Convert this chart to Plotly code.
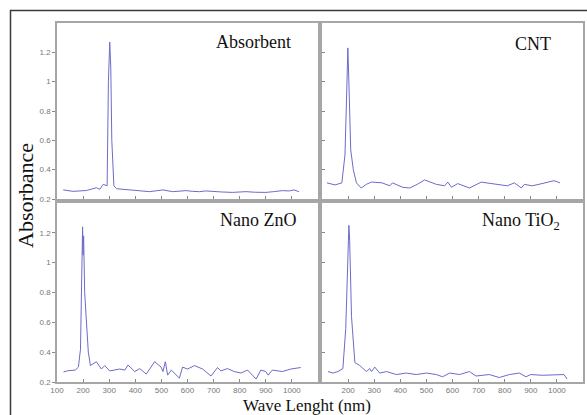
import plotly.graph_objects as go

# ---------------- data ----------------
abs_x = [124, 162, 213, 251, 264, 277, 292, 297, 302, 306, 310, 318, 328, 360, 391, 420, 455, 480, 506, 543,
         570, 595, 620, 646, 670, 696, 730, 772, 800, 824, 860, 900, 930, 963, 990, 1008, 1027]
abs_y = [0.262, 0.252, 0.258, 0.277, 0.266, 0.300, 0.290, 1.00, 1.27, 1.10, 0.60, 0.290, 0.270, 0.266, 0.262,
         0.258, 0.250, 0.256, 0.262, 0.250, 0.254, 0.257, 0.252, 0.250, 0.255, 0.250, 0.248, 0.245, 0.250,
         0.250, 0.246, 0.245, 0.250, 0.257, 0.255, 0.262, 0.250]

cnt_x = [119, 150, 176, 188, 195, 199, 203, 210, 220, 232, 250, 270, 290, 330, 360, 370, 409, 436, 465, 493,
         538, 570, 582, 596, 620, 665, 710, 748, 790, 810, 837, 864, 875, 905, 943, 989, 1012]
cnt_y = [0.310, 0.296, 0.310, 0.50, 0.95, 1.23, 1.00, 0.535, 0.40, 0.310, 0.275, 0.300, 0.316, 0.310, 0.290,
         0.310, 0.280, 0.275, 0.300, 0.330, 0.300, 0.290, 0.315, 0.280, 0.305, 0.275, 0.315, 0.305, 0.295,
         0.290, 0.310, 0.275, 0.300, 0.290, 0.305, 0.325, 0.310]

zno_x = [125, 140, 170, 182, 190, 195, 198, 200, 202, 206, 212, 220, 228, 251, 270, 283, 302, 340, 360, 372,
         398, 417, 442, 474, 499, 506, 515, 524, 538, 569, 581, 600, 627, 658, 690, 715, 728, 753, 779, 805,
         830, 849, 863, 881, 900, 909, 925, 963, 996, 1034]
zno_y = [0.267, 0.275, 0.280, 0.300, 0.420, 0.800, 1.240, 1.050, 1.180, 0.800, 0.600, 0.400, 0.310, 0.336,
         0.287, 0.310, 0.274, 0.287, 0.280, 0.314, 0.270, 0.290, 0.253, 0.336, 0.300, 0.270, 0.336, 0.246,
         0.280, 0.226, 0.300, 0.287, 0.310, 0.287, 0.240, 0.297, 0.274, 0.290, 0.270, 0.260, 0.280, 0.246,
         0.220, 0.280, 0.270, 0.246, 0.280, 0.270, 0.287, 0.297]

tio_x = [123, 142, 161, 180, 191, 198, 203, 206, 213, 226, 245, 270, 283, 290, 302, 321, 347, 385, 423, 461,
         500, 538, 562, 589, 627, 665, 690, 741, 779, 818, 856, 881, 900, 944, 996, 1027, 1039]
tio_y = [0.270, 0.260, 0.270, 0.290, 0.560, 1.000, 1.250, 1.150, 0.640, 0.330, 0.310, 0.270, 0.290, 0.270,
         0.300, 0.260, 0.270, 0.250, 0.260, 0.250, 0.260, 0.250, 0.235, 0.260, 0.250, 0.270, 0.240, 0.250,
         0.230, 0.250, 0.260, 0.235, 0.250, 0.245, 0.250, 0.250, 0.220]

panel_names = ["Absorbent", "CNT", "Nano ZnO", "Nano TiO<sub>2</sub>"]
x_ticks_left = [100, 200, 300, 400, 500, 600, 700, 800, 900, 1000]
x_ticks_right = [200, 300, 400, 500, 600, 700, 800, 900, 1000, 1100]
y_ticks = [0.2, 0.4, 0.6, 0.8, 1.0, 1.2]
y_tick_text = ["0.2", "0.4", "0.6", "0.8", "1", "1.2"]
x_title = "Wave Lenght (nm)"
y_title = "Absorbance"

# ---------------- figure ----------------
W, H = 587, 415
line_color = "rgb(108,108,200)"
axis_color = "#a6a6a6"
tick_font = dict(family="Liberation Sans, Arial", size=8, color="#777777")
serif = "Liberation Serif, Times New Roman, serif"

fig = go.Figure()
series = [(abs_x, abs_y), (cnt_x, cnt_y), (zno_x, zno_y), (tio_x, tio_y)]
for i, (xs, ys) in enumerate(series):
    fig.add_trace(go.Scatter(x=xs, y=ys, mode="lines", line=dict(color=line_color, width=1),
                             xaxis="x" if i == 0 else f"x{i+1}", yaxis="y" if i == 0 else f"y{i+1}",
                             showlegend=False, hoverinfo="skip"))

# panel boxes in pixels (left, right, top, bottom)
boxes = [(57, 318, 23, 199), (322, 583, 23, 199), (57, 318, 203, 382), (322, 583, 203, 382)]
layout = {}
for i, (l, r, t, b) in enumerate(boxes):
    xk = "xaxis" if i == 0 else f"xaxis{i+1}"
    yk = "yaxis" if i == 0 else f"yaxis{i+1}"
    left_col = i in (0, 2)
    bottom_row = i in (2, 3)
    xtv = x_ticks_left if left_col else x_ticks_right
    layout[xk] = dict(domain=[l / W, r / W], range=[100, 1100], anchor="y" if i == 0 else f"y{i+1}",
                      showline=True, mirror=True, linecolor=axis_color, linewidth=1.5, automargin=False,
                      showgrid=False, zeroline=False, ticks="inside", ticklen=3, tickcolor="#888888",
                      tickmode="array", tickvals=xtv, ticktext=[str(v) for v in xtv], tickfont=tick_font,
                      showticklabels=bottom_row, fixedrange=True)
    layout[yk] = dict(domain=[1 - b / H, 1 - t / H], range=[0.2, 1.4], anchor="x" if i == 0 else f"x{i+1}",
                      showline=True, mirror=True, linecolor=axis_color, linewidth=1.5, automargin=False,
                      showgrid=False, zeroline=False, ticks="outside" if left_col else "inside", ticklen=3,
                      tickcolor="#888888", tickmode="array", tickvals=y_ticks, ticktext=y_tick_text,
                      tickfont=tick_font, showticklabels=left_col, fixedrange=True)

label_pos = [(253, 42), (533, 44), (258, 220), (521, 221)]
annotations = []
for name, (px, py) in zip(panel_names, label_pos):
    annotations.append(dict(text=name, x=px / W, y=1 - py / H, xref="paper", yref="paper",
                            showarrow=False, xanchor="center", yanchor="middle",
                            font=dict(family=serif, size=18, color="#111111")))
annotations.append(dict(text=x_title, x=307 / W, y=1 - 405 / H, xref="paper", yref="paper",
                        showarrow=False, xanchor="center", yanchor="middle",
                        font=dict(family=serif, size=17, color="#111111")))
annotations.append(dict(text=y_title, x=26 / W, y=1 - 196 / H, xref="paper", yref="paper",
                        showarrow=False, xanchor="center", yanchor="middle", textangle=-90,
                        font=dict(family=serif, size=22, color="#111111")))

shapes = [dict(type="rect", xref="paper", yref="paper", x0=10.5 / W, x1=1.02, y0=-0.02, y1=1 - 10.5 / H,
               line=dict(color="#3a3a3a", width=1.5), fillcolor="rgba(0,0,0,0)", layer="below")]

fig.update_layout(width=W, height=H, margin=dict(l=0, r=0, t=0, b=0), autosize=False,
                  paper_bgcolor="white", plot_bgcolor="white",
                  annotations=annotations, shapes=shapes, **layout)
fig.write_html("out.html")
